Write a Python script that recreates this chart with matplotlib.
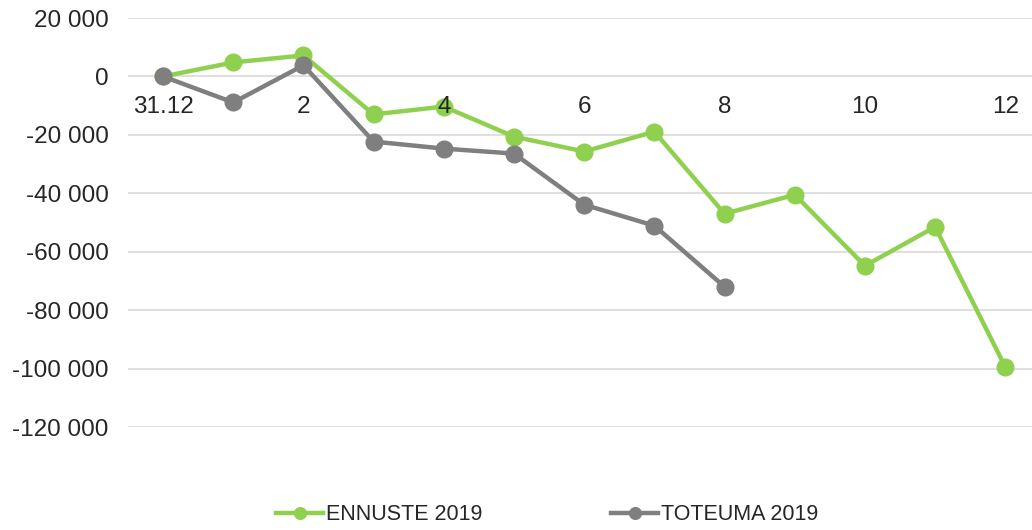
import matplotlib
matplotlib.use('Agg')
import numpy as np
import matplotlib.pyplot as plt

categories = ['31.12', '1', '2', '3', '4', '5', '6', '7', '8', '9', '10', '11', '12']
ennuste = [0, 4800, 7200, -13000, -10300, -20600, -25700, -18900, -47000, -40500, -64800, -51500, -99500]
toteuma = [0, -8900, 3800, -22300, -24700, -26400, -43900, -51100, -72000]
yticks = [20000, 0, -20000, -40000, -60000, -80000, -100000, -120000]

green = '#8fd14f'
grey = '#7f7f7f'

plt.rcParams['font.family'] = ['Liberation Sans', 'DejaVu Sans']

fig = plt.figure(figsize=(10.32, 5.30), dpi=100)
ax = fig.add_axes([0.124, 0.1943, 0.876, 0.7717])

x = np.arange(len(categories))
ax.plot(x, ennuste, color=green, lw=3.2, marker='o', ms=12, label='ENNUSTE 2019', zorder=3)
ax.plot(x[:len(toteuma)], toteuma, color=grey, lw=3.2, marker='o', ms=12, label='TOTEUMA 2019', zorder=4)

ax.set_xlim(-0.5, 12.38)
ax.set_ylim(-120000, 20000)
ax.set_yticks(yticks)
ax.set_yticklabels([('%d' % v if v == 0 else '{:,}'.format(v).replace(',', ' ')) for v in yticks])
ax.grid(axis='y', color='#d9d9d9', lw=1.2)
ax.set_axisbelow(True)
ax.set_xticks([])
for s in ax.spines.values():
    s.set_visible(False)
ax.tick_params(axis='y', length=0, pad=14, labelsize=17.5, labelcolor='#262626')

# category labels sit just under the zero line
for i in range(0, len(categories), 2):
    ax.annotate(categories[i], (x[i], 0), xytext=(0, -14), textcoords='offset points',
                ha='center', va='top', fontsize=17.5, color='#262626')

leg = fig.legend(loc='lower center', ncol=2, bbox_to_anchor=(0.53, -0.028), frameon=False,
                 fontsize=15.5, handlelength=2.2, columnspacing=6, handletextpad=0.1, markerscale=0.7)
for t in leg.get_texts():
    t.set_color('#262626')

fig.savefig('out.png', dpi=100)
